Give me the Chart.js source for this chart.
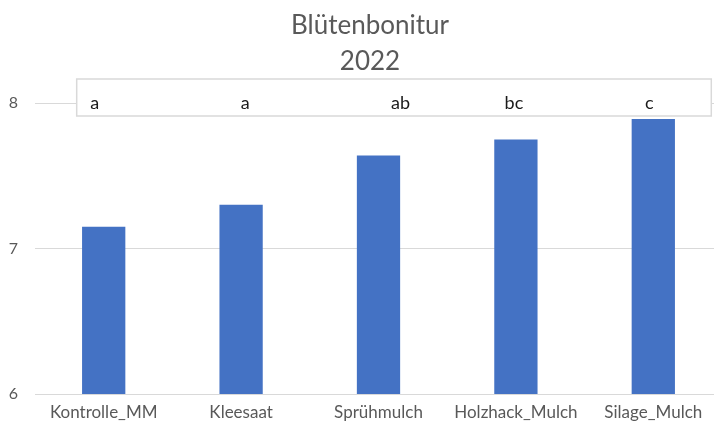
<!DOCTYPE html>
<html>
<head>
<meta charset="utf-8">
<script src="https://cdn.jsdelivr.net/npm/chart.js@4"></script>
<style>
  html, body { margin: 0; padding: 0; background: #fff; overflow: hidden; }
  #wrap { width: 740px; height: 427px; }
</style>
</head>
<body>
<div id="wrap"><canvas id="barChart"></canvas></div>
<script>
const categories = ['Kontrolle_MM', 'Kleesaat', 'Sprühmulch', 'Holzhack_Mulch', 'Silage_Mulch'];
const values = [7.15, 7.30, 7.64, 7.75, 7.89];
const letters = ['a', 'a', 'ab', 'bc', 'c'];
const titleLines = ['Blütenbonitur', '2022'];
const yTicks = [6, 7, 8];

// chart title, centred on the whole Excel chart frame
const chartTitle = {
  id: 'chartTitle',
  afterDraw(chart) {
    const { ctx } = chart;
    ctx.save();
    ctx.fillStyle = '#595959';
    ctx.font = '26px Lato';
    ctx.textAlign = 'center';
    ctx.textBaseline = 'middle';
    titleLines.forEach((t, i) => ctx.fillText(t, chart.width / 2, 26 + i * 36));
    ctx.restore();
  }
};

// letter box above the bars (Excel text box)
const letterBox = {
  id: 'letterBox',
  afterDatasetsDraw(chart) {
    const { ctx, scales: { x, y } } = chart;
    const y8 = y.getPixelForValue(8);
    const left = x.getPixelForValue(0) - 27;
    const right = x.getPixelForValue(categories.length - 1) + 58;
    const top = y8 - 24, bottom = y8 + 13;
    ctx.save();
    ctx.fillStyle = '#fff';
    ctx.fillRect(left, top, right - left, bottom - top);
    ctx.strokeStyle = '#d9d9d9';
    ctx.lineWidth = 1.5;
    ctx.strokeRect(left, top, right - left, bottom - top);
    ctx.fillStyle = '#1a1a1a';
    ctx.font = '18px Lato';
    ctx.textAlign = 'center';
    ctx.textBaseline = 'alphabetic';
    const shift = [-9, 4, 22, -2, -4];
    letters.forEach((l, i) => {
      ctx.fillText(l, x.getPixelForValue(i) + shift[i], y8 + 6);
    });
    ctx.restore();
  }
};

new Chart(document.getElementById('barChart').getContext('2d'), {
  type: 'bar',
  data: {
    labels: categories,
    datasets: [{
      data: values,
      backgroundColor: '#4472c4',
      borderWidth: 0,
      categoryPercentage: 1,
      barPercentage: 0.315
    }]
  },
  options: {
    responsive: true,
    maintainAspectRatio: false,
    animation: false,
    layout: { padding: { left: 0, right: 18, top: 103, bottom: 0 } },
    plugins: {
      legend: { display: false },
      tooltip: { enabled: false },
      title: { display: false }
    },
    scales: {
      x: {
        grid: { display: false, drawTicks: false },
        border: { display: true, color: '#d9d9d9', width: 1 },
        ticks: { color: '#595959', font: { family: 'Lato', size: 17 }, padding: 8, maxRotation: 0 },
        afterFit: s => { s.height = 33; }
      },
      y: {
        min: 6,
        max: 8,
        afterBuildTicks: s => { s.ticks = yTicks.map(v => ({ value: v })); },
        grid: { color: '#d9d9d9', drawTicks: false },
        border: { display: false },
        ticks: { color: '#595959', font: { family: 'Lato', size: 16 }, padding: 17 },
        afterFit: s => { s.width = 35; }
      }
    }
  },
  plugins: [letterBox, chartTitle]
});
</script>
</body>
</html>
